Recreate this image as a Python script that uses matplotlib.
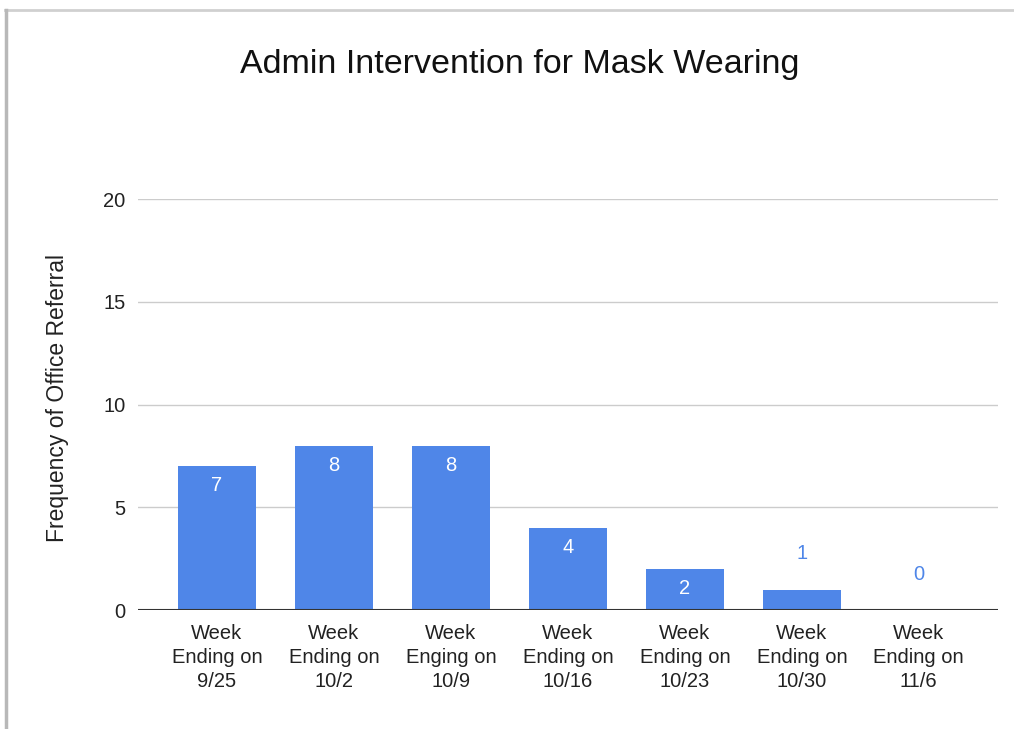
import matplotlib.pyplot as plt
from matplotlib.lines import Line2D

# podaci sa grafika
weeks = ["Week\nEnding on\n9/25", "Week\nEnding on\n10/2", "Week\nEnging on\n10/9",
         "Week\nEnding on\n10/16", "Week\nEnding on\n10/23", "Week\nEnding on\n10/30",
         "Week\nEnding on\n11/6"]
referrals = [7, 8, 8, 4, 2, 1, 0]
y_ticks = [0, 5, 10, 15, 20]

plt.rcParams['font.family'] = ['Liberation Sans', 'DejaVu Sans']

bar_color = "#4f86e8"

fig = plt.figure(figsize=(10.14, 7.29), dpi=100)
ax = fig.add_axes([0.136, 0.163, 0.848, 0.564])

x = list(range(len(weeks)))
bars = ax.bar(x, referrals, width=0.67, color=bar_color, zorder=3)

ax.set_xlim(-0.675, 6.675)
ax.set_ylim(0, 20)
ax.set_yticks(y_ticks)
ax.set_yticklabels([str(t) for t in y_ticks], fontsize=14.5, color="#222222")
ax.set_xticks(x)
ax.set_xticklabels(weeks, fontsize=14.5, color="#222222", linespacing=1.32)
ax.tick_params(axis="both", length=0)
ax.tick_params(axis="y", pad=9)
ax.tick_params(axis="x", pad=10)

for s in ax.spines.values():
    s.set_visible(False)
ax.grid(axis="y", color="#cccccc", linewidth=1, zorder=0)
ax.axhline(0, color="#333333", linewidth=1.5, zorder=4)

# vrednosti na stubicima
for xi, v in zip(x, referrals):
    if v >= 2:
        ax.annotate(str(v), (xi, v), xytext=(0, -14), textcoords="offset points",
                    ha="center", va="center", color="white", fontsize=14.5, zorder=5)
    else:
        ax.annotate(str(v), (xi, v), xytext=(0, 26), textcoords="offset points",
                    ha="center", va="center", color=bar_color, fontsize=14.5, zorder=5)

ax.set_ylabel("Frequency of Office Referral", fontsize=16.5, color="#222222")
ax.yaxis.set_label_coords(-0.08, 0.515)

fig.text(0.513, 0.912, "Admin Intervention for Mask Wearing", ha="center", va="center",
         fontsize=24.5, color="#111111")

# okvir screenshota
fig.add_artist(Line2D([5 / 1014, 1.0], [1 - 10 / 729, 1 - 10 / 729], transform=fig.transFigure,
                      color="#d0d0d0", linewidth=2))
fig.add_artist(Line2D([6 / 1014, 6 / 1014], [0, 1 - 10 / 729], transform=fig.transFigure,
                      color="#b8b8b8", linewidth=2.5))

fig.savefig("out.png", dpi=100)
